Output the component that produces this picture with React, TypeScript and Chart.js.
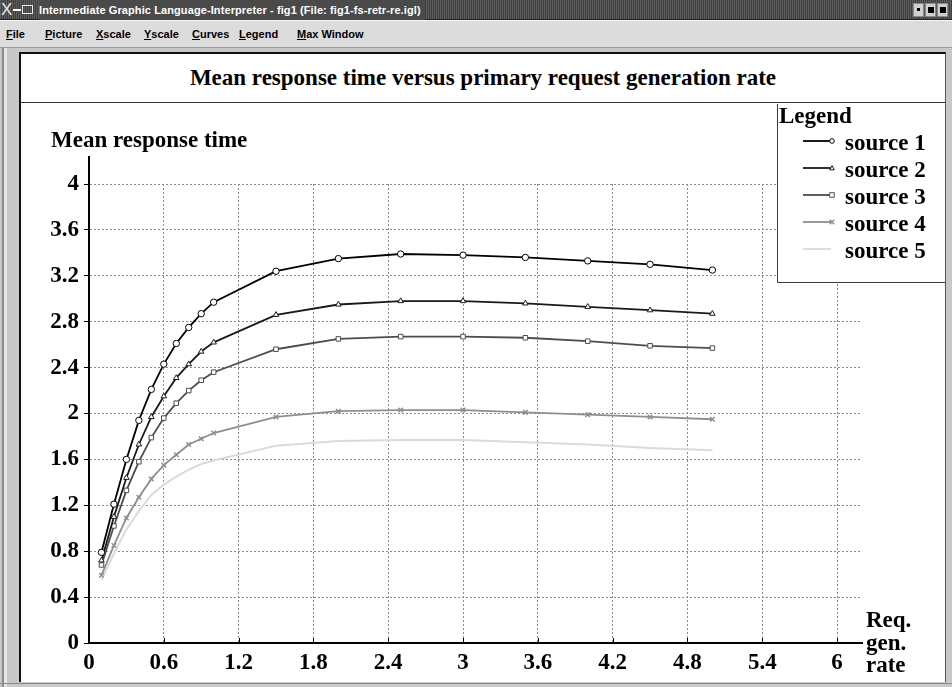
import React, { useEffect, useRef } from "react";
import { Chart, registerables } from "chart.js";

Chart.register(...registerables);

// ---------- data ----------
const xValues = [0.1, 0.2, 0.3, 0.4, 0.5, 0.6, 0.7, 0.8, 0.9, 1.0, 1.5, 2, 2.5, 3, 3.5, 4, 4.5, 5];
const source1 = [0.79, 1.21, 1.6, 1.94, 2.21, 2.43, 2.61, 2.75, 2.87, 2.97, 3.24, 3.35, 3.39, 3.38, 3.36, 3.33, 3.3, 3.25];
const source2 = [0.72, 1.1, 1.44, 1.73, 1.97, 2.15, 2.31, 2.43, 2.54, 2.62, 2.86, 2.95, 2.98, 2.98, 2.96, 2.93, 2.9, 2.87];
const source3 = [0.68, 1.02, 1.33, 1.58, 1.79, 1.96, 2.09, 2.2, 2.29, 2.36, 2.56, 2.65, 2.67, 2.67, 2.66, 2.63, 2.59, 2.57];
const source4 = [0.59, 0.85, 1.09, 1.27, 1.43, 1.55, 1.64, 1.73, 1.78, 1.83, 1.97, 2.02, 2.03, 2.03, 2.01, 1.99, 1.97, 1.95];
const source5 = [0.55, 0.78, 0.99, 1.15, 1.29, 1.38, 1.45, 1.51, 1.56, 1.59, 1.72, 1.76, 1.77, 1.77, 1.75, 1.73, 1.7, 1.68];

const seriesNames = ["source 1", "source 2", "source 3", "source 4", "source 5"];
const xTickValues = [0, 0.6, 1.2, 1.8, 2.4, 3, 3.6, 4.2, 4.8, 5.4, 6];
const xTickLabels = ["0", "0.6", "1.2", "1.8", "2.4", "3", "3.6", "4.2", "4.8", "5.4", "6"];
const yTickValues = [0, 0.4, 0.8, 1.2, 1.6, 2, 2.4, 2.8, 3.2, 3.6, 4];
const yTickLabels = ["0", "0.4", "0.8", "1.2", "1.6", "2", "2.4", "2.8", "3.2", "3.6", "4"];

const chartTitle = "Mean response time versus primary request generation rate";
const yTitle = "Mean response time";
const xTitleLines = ["Req.", "gen.", "rate"];
const legendTitle = "Legend";
const windowTitle = "Intermediate Graphic Language-Interpreter - fig1 (File: fig1-fs-retr-re.igl)";
const menuItems = ["File", "Picture", "Xscale", "Yscale", "Curves", "Legend", "Max Window"];

// ---------- styles ----------
const SERIF = '"Liberation Serif", "Times New Roman", serif';
const FONT = { family: SERIF, size: 23, weight: "bold" as const };
const colors = ["#000000", "#1a1a1a", "#4d4d4d", "#8e8e8e", "#dadada"];
const pointStyles = ["circle", "triangle", "rect", "crossRot", false];
const menuX = [6, 45, 96, 144, 192, 239, 297];

function drawMarker(ctx: CanvasRenderingContext2D, style: any, x: number, y: number, r: number, color: string) {
  if (!style) return;
  ctx.save();
  ctx.strokeStyle = color;
  ctx.fillStyle = "#fff";
  ctx.lineWidth = 1;
  ctx.beginPath();
  if (style === "circle") {
    ctx.arc(x, y, r, 0, Math.PI * 2);
    ctx.fill();
    ctx.stroke();
  } else if (style === "triangle") {
    ctx.moveTo(x, y - r);
    ctx.lineTo(x + r, y + r * 0.8);
    ctx.lineTo(x - r, y + r * 0.8);
    ctx.closePath();
    ctx.fill();
    ctx.stroke();
  } else if (style === "rect") {
    ctx.rect(x - r, y - r, 2 * r, 2 * r);
    ctx.fill();
    ctx.stroke();
  } else if (style === "crossRot") {
    ctx.lineWidth = 1.5;
    ctx.moveTo(x - r, y - r);
    ctx.lineTo(x + r, y + r);
    ctx.moveTo(x + r, y - r);
    ctx.lineTo(x - r, y + r);
    ctx.stroke();
  }
  ctx.restore();
}

const overlayPlugin = {
  id: "overlay",
  afterDraw(chart: any) {
    const { ctx, chartArea, scales } = chart;
    const xs = scales.x;
    ctx.save();
    // x tick marks (inward)
    ctx.strokeStyle = "#000";
    ctx.lineWidth = 1;
    for (const v of xTickValues) {
      const px = Math.round(xs.getPixelForValue(v)) + 0.5;
      ctx.beginPath();
      ctx.moveTo(px, chartArea.bottom);
      ctx.lineTo(px, chartArea.bottom - 5);
      ctx.stroke();
    }
    // y axis extension above top tick
    ctx.lineWidth = 2;
    ctx.beginPath();
    ctx.moveTo(chartArea.left, chartArea.top + 1);
    ctx.lineTo(chartArea.left, chartArea.top - 28);
    ctx.stroke();

    // axis titles
    ctx.font = `bold 23px ${SERIF}`;
    ctx.fillStyle = "#000";
    ctx.textAlign = "left";
    ctx.textBaseline = "alphabetic";
    ctx.fillText(yTitle, chartArea.left - 38, chartArea.top - 37);
    xTitleLines.forEach((l, i) => ctx.fillText(l, chartArea.right + 4, chartArea.bottom - 16 + i * 22.5));

    // legend box
    const lx = 756;
    const lb = 178;
    const rx = chart.width;
    ctx.fillStyle = "#fff";
    ctx.fillRect(lx, 0, rx - lx, lb);
    ctx.strokeStyle = "#3a3a3a";
    ctx.lineWidth = 1;
    ctx.beginPath();
    ctx.moveTo(lx + 0.5, 0);
    ctx.lineTo(lx + 0.5, lb + 0.5);
    ctx.lineTo(rx, lb + 0.5);
    ctx.stroke();
    ctx.fillStyle = "#000";
    ctx.fillText(legendTitle, lx + 2, 19);
    chart.data.datasets.forEach((ds: any, i: number) => {
      const base = 46 + i * 27;
      const ly = base - 9;
      ctx.strokeStyle = ds.borderColor;
      ctx.lineWidth = 1.8;
      ctx.beginPath();
      ctx.moveTo(782, ly);
      ctx.lineTo(810, ly);
      ctx.stroke();
      drawMarker(ctx, pointStyles[i], 811, ly, 2.3, ds.borderColor);
      ctx.fillStyle = "#000";
      ctx.fillText(ds.label, 824, base);
    });
    ctx.restore();
  },
};

export default function App() {
  const canvasRef = useRef<HTMLCanvasElement | null>(null);

  useEffect(() => {
    const canvas = canvasRef.current;
    if (!canvas) return;
    const all = [source1, source2, source3, source4, source5];
    const datasets = all.map((arr, i) => ({
      label: seriesNames[i],
      data: xValues.map((x, j) => ({ x, y: arr[j] })),
      borderColor: colors[i],
      backgroundColor: colors[i],
      borderWidth: i === 4 ? 2 : 1.8,
      tension: 0,
      fill: false,
      pointStyle: pointStyles[i] || "circle",
      pointRadius: pointStyles[i] ? 3.2 : 0,
      pointBackgroundColor: "#ffffff",
      pointBorderColor: colors[i],
      pointBorderWidth: i === 3 ? 1.5 : 1,
    }));
    const chart = new Chart(canvas, {
      type: "line",
      data: { datasets },
      options: {
        animation: false,
        responsive: false,
        devicePixelRatio: 1,
        layout: { padding: { top: 80, right: 83, left: 0, bottom: 0 } },
        plugins: {
          legend: { display: false },
          title: { display: false },
          tooltip: { enabled: false },
        },
        scales: {
          x: {
            type: "linear",
            min: 0,
            max: 6.2,
            afterBuildTicks: (a: any) => {
              a.ticks = xTickValues.map((v) => ({ value: v }));
            },
            afterFit: (s: any) => {
              s.height = 39;
            },
            grid: { color: "#8a8a8a", lineWidth: 1, drawTicks: false },
            border: { display: true, color: "#000", width: 2, dash: [2, 2] },
            ticks: {
              font: FONT,
              color: "#000",
              padding: 6,
              maxRotation: 0,
              autoSkip: false,
              callback: (_v: any, i: number) => xTickLabels[i],
            },
          },
          y: {
            type: "linear",
            min: 0,
            max: 4,
            afterBuildTicks: (a: any) => {
              a.ticks = yTickValues.map((v) => ({ value: v }));
            },
            afterFit: (s: any) => {
              s.width = 68;
            },
            grid: { color: "#8a8a8a", lineWidth: 1, tickColor: "#000", tickLength: 5, tickBorderDash: [] },
            border: { display: true, color: "#000", width: 2, dash: [2, 2] },
            ticks: {
              font: FONT,
              color: "#000",
              padding: 5,
              autoSkip: false,
              callback: (_v: any, i: number) => yTickLabels[i],
            },
          },
        },
      } as any,
      plugins: [overlayPlugin],
    });
    return () => chart.destroy();
  }, []);

  const sans = '"Liberation Sans", Arial, sans-serif';

  return (
    <div
      style={{
        position: "fixed",
        left: 0,
        top: 0,
        width: 952,
        height: 687,
        background: "#c8c8c8",
        overflow: "hidden",
      }}
    >
      {/* title bar */}
      <div
        style={{
          position: "absolute",
          left: 0,
          top: 0,
          width: 952,
          height: 20,
          background:
            "repeating-linear-gradient(90deg, #5c5c5c 0px, #5c5c5c 1px, #404040 1px, #404040 2px)",
          borderBottom: "1px solid #222",
          boxSizing: "border-box",
        }}
      >
        <div
          style={{
            position: "absolute",
            left: 1,
            top: 0,
            fontFamily: sans,
            fontSize: 17,
            lineHeight: "19px",
            color: "#e8e8e8",
          }}
        >
          X
        </div>
        <div style={{ position: "absolute", left: 13, top: 9, width: 8, height: 2, background: "#fff" }} />
        <div style={{ position: "absolute", left: 22, top: 5, width: 11, height: 9, border: "1px solid #eee", boxSizing: "border-box" }} />
        <div
          style={{
            position: "absolute",
            left: 39,
            top: 0,
            height: 20,
            lineHeight: "20px",
            fontFamily: sans,
            fontWeight: "bold",
            fontSize: 11,
            letterSpacing: 0.1,
            color: "#ffffff",
            whiteSpace: "nowrap",
            background: "#4a4a4a",
            paddingRight: 4,
          }}
        >
          {windowTitle}
        </div>
        {[913, 925, 937].map((bx, i) => (
          <div
            key={i}
            style={{
              position: "absolute",
              left: bx,
              top: 3,
              width: 11,
              height: 14,
              background: "#d0d0d0",
              border: "1px solid #888",
              boxSizing: "border-box",
            }}
          >
            <div
              style={{
                position: "absolute",
                left: i === 0 ? 3 : 2,
                top: i === 0 ? 4 : 3,
                width: i === 0 ? 3 : 6,
                height: i === 0 ? 3 : 6,
                background: "#000",
              }}
            />
          </div>
        ))}
      </div>

      {/* menu bar */}
      <div
        style={{
          position: "absolute",
          left: 0,
          top: 20,
          width: 952,
          height: 28,
          background: "#dcdcdc",
          borderTop: "1px solid #f4f4f4",
          borderBottom: "1px solid #9a9a9a",
          boxSizing: "border-box",
        }}
      >
        {menuItems.map((m, i) => (
          <div
            key={m}
            style={{
              position: "absolute",
              left: menuX[i],
              top: 7,
              fontFamily: sans,
              fontWeight: "bold",
              fontSize: 11,
              color: "#000",
              whiteSpace: "nowrap",
            }}
          >
            <span style={{ textDecoration: "underline" }}>{m[0]}</span>
            {m.slice(1)}
          </div>
        ))}
      </div>

      {/* left frame accents */}
      <div style={{ position: "absolute", left: 2, top: 48, width: 2, height: 639, background: "#8a8a8a" }} />
      <div style={{ position: "absolute", left: 4, top: 48, width: 3, height: 639, background: "#e6e6e6" }} />

      {/* white panel */}
      <div
        style={{
          position: "absolute",
          left: 19,
          top: 52,
          width: 927,
          height: 630,
          background: "#ffffff",
          borderLeft: "2px solid #111",
          borderTop: "2px solid #111",
          borderRight: "1px solid #555",
          boxSizing: "border-box",
        }}
      >
        <div
          style={{
            position: "absolute",
            left: 0,
            top: 0,
            width: 924,
            height: 49,
            borderBottom: "1px solid #333",
            boxSizing: "border-box",
            display: "flex",
            alignItems: "center",
            justifyContent: "center",
            fontFamily: SERIF,
            fontWeight: "bold",
            fontSize: 23,
            color: "#000",
            whiteSpace: "nowrap",
          }}
        >
          {chartTitle}
        </div>
      </div>

      {/* chart canvas */}
      <div style={{ position: "absolute", left: 21, top: 104, width: 924, height: 578 }}>
        <canvas ref={canvasRef} width={924} height={578} style={{ display: "block", width: 924, height: 578 }} />
      </div>

      {/* bottom frame */}
      <div style={{ position: "absolute", left: 0, top: 683, width: 952, height: 1, background: "#8a8a8a" }} />
    </div>
  );
}
